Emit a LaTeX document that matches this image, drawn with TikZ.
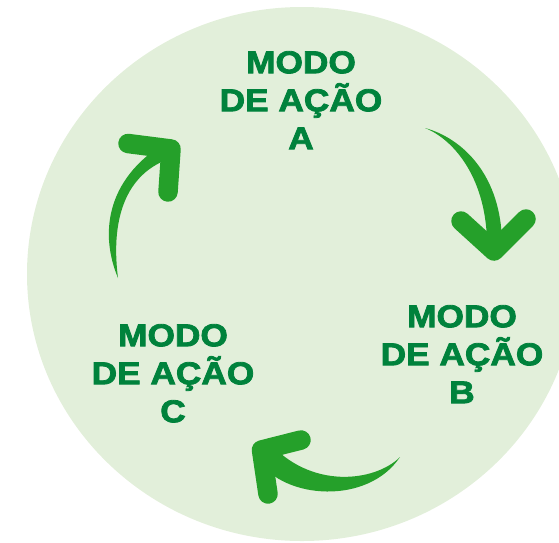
\documentclass[tikz,border=0pt]{standalone}
\usepackage{fontspec}
\setmainfont{Liberation Sans}[FakeStretch=1.12,BoldFeatures={FakeBold=2.5}]
\definecolor{fundo}{HTML}{E2EFDA}
\definecolor{verdetexto}{HTML}{00823C}
\definecolor{verdeseta}{HTML}{25A02A}

\begin{document}
\begin{tikzpicture}[x=1pt, y=-1pt,
	modo/.style={text=verdetexto, font=\bfseries\fontsize{31.5}{38}\selectfont, align=center, anchor=north, inner sep=0pt},
	haste/.style={fill=verdeseta},
	ponta/.style={draw=verdeseta, line width=19.5pt, line cap=round, line join=round}]
	\useasboundingbox (0,0) rectangle (559,542);
	\fill[fundo] (302,274) ellipse [x radius=275pt, y radius=267pt];
	\node[modo] (modoA) at (301,51) {MODO\\DE AÇÃO\\A};
	\node[modo] (modoB) at (462,305) {MODO\\DE AÇÃO\\B};
	\node[modo] (modoC) at (173,324) {MODO\\DE AÇÃO\\C};
	% seta A -> B
	\fill[haste] (425,128) .. controls (462,138) and (502,175) .. (502,245) -- (487,245) .. controls (487,180) and (455,140) .. (425,128) -- cycle;
	\draw[ponta] (461,221) -- (494,251) -- (526,219);
	% seta B -> C
	\fill[haste] (400,457) .. controls (375,482) and (310,490) .. (268,441) -- (258,460) .. controls (285,500) and (368,505) .. (400,457) -- cycle;
	\draw[ponta] (301,440) -- (261.5,450) -- (268,494);
	% seta C -> A
	\fill[haste] (118,278) .. controls (100,235) and (105,180) .. (165,143) -- (175,157) .. controls (128,170) and (110,215) .. (118,278) -- cycle;
	\draw[ponta] (128,143.5) -- (171,149) -- (168,192);
\end{tikzpicture}
\end{document}
